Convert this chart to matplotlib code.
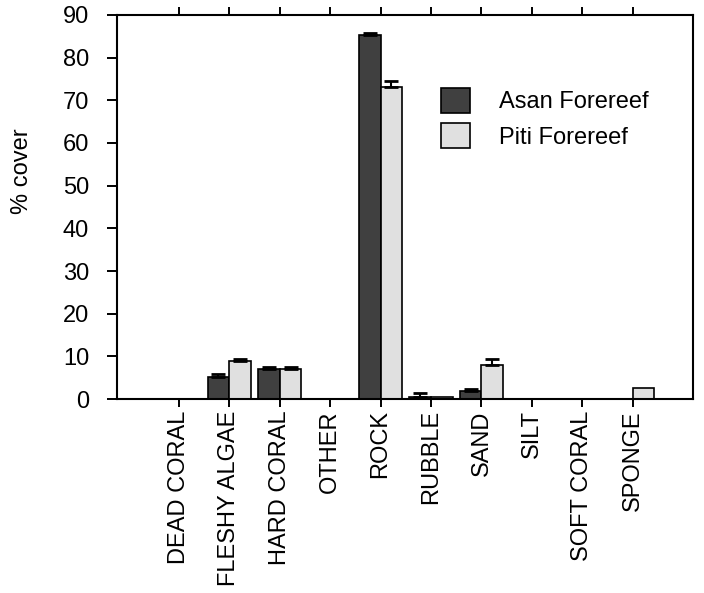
import matplotlib
matplotlib.use("Agg")
import matplotlib.pyplot as plt
import numpy as np

categories = ["DEAD CORAL", "FLESHY ALGAE", "HARD CORAL", "OTHER", "ROCK",
              "RUBBLE", "SAND", "SILT", "SOFT CORAL", "SPONGE"]
asan_mean = [0.0, 5.2, 7.1, 0.0, 85.3, 0.5, 1.9, 0.0, 0.0, 0.0]
asan_err = [0.0, 0.6, 0.5, 0.0, 0.5, 1.0, 0.5, 0.0, 0.0, 0.0]
piti_mean = [0.0, 9.0, 7.1, 0.0, 73.0, 0.5, 8.1, 0.0, 0.0, 2.5]
piti_err = [0.0, 0.5, 0.5, 0.0, 1.5, 0.0, 1.4, 0.0, 0.0, 0.0]
series_names = ["Asan Forereef", "Piti Forereef"]
yticks = [0, 10, 20, 30, 40, 50, 60, 70, 80, 90]

plt.rcParams["font.family"] = ["Liberation Sans", "DejaVu Sans"]
FS = 17

fig = plt.figure(figsize=(7.04, 5.93), dpi=100)
ax = fig.add_axes([0.166, 0.327, 0.818, 0.648])

x = np.arange(len(categories))
w = 0.43
colors = ["#404040", "#e0e0e0"]

for i, (means, errs, col, name) in enumerate(
        [(asan_mean, asan_err, colors[0], series_names[0]),
         (piti_mean, piti_err, colors[1], series_names[1])]):
    pos = x + (i - 0.5) * w
    ax.bar(pos, means, width=w, color=col, edgecolor="black",
           linewidth=1.2, label=name, zorder=2)
    m = np.array(means)
    e = np.array(errs)
    sel = e > 0
    ax.errorbar(pos[sel], m[sel], yerr=[np.zeros(sel.sum()), e[sel]],
                fmt="none", ecolor="black", elinewidth=1.5,
                capsize=4.8, capthick=2.0, zorder=3)

ax.set_xlim(-1.23, 10.19)
ax.set_ylim(0, 90)
ax.set_yticks(yticks)
ax.set_xticks(x)
ax.set_xticklabels(categories, rotation=90, fontsize=FS)
ax.tick_params(axis="y", direction="out", length=7, width=1.4,
               labelsize=FS, right=False, pad=13)
ax.tick_params(axis="x", direction="out", length=5.5, width=1.4,
               top=True, bottom=True, pad=2.5)
for s in ax.spines.values():
    s.set_linewidth(1.5)

fig.text(22 / 704, 1 - 171 / 593, "% cover", rotation=90, fontsize=FS,
         ha="center", va="center")

ax.legend(loc="upper left", bbox_to_anchor=(0.5625, 0.81), frameon=False,
          fontsize=FS, handlelength=1.25, handleheight=1.25,
          handletextpad=1.2, labelspacing=0.42, borderpad=0,
          borderaxespad=0)

fig.savefig("out.png", dpi=100)
